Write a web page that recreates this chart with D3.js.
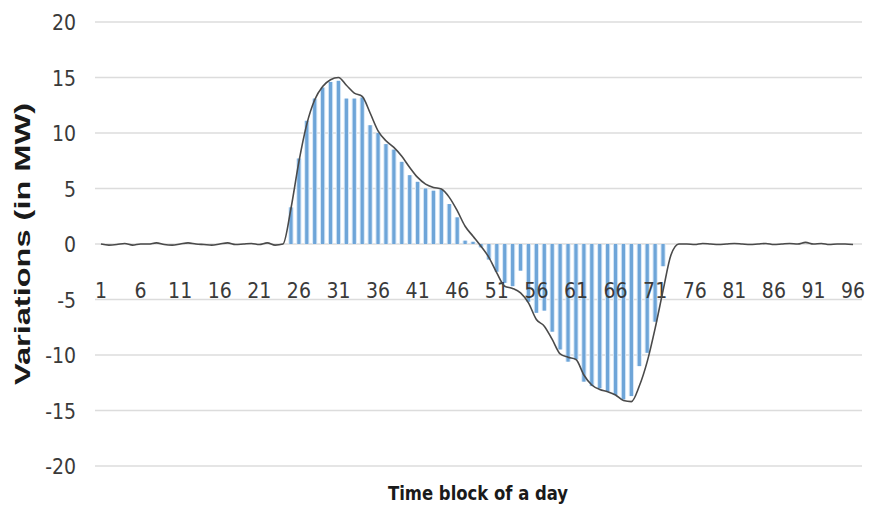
<!DOCTYPE html>
<html><head><meta charset="utf-8">
<script src="https://cdn.jsdelivr.net/npm/d3@7"></script>
<style>
html,body{margin:0;padding:0;background:#fff;}
svg{display:block;}
</style></head>
<body>
<svg id="chart" width="871" height="507"></svg>
<script>
// ---- data ----
const blocks = d3.range(1, 97);
const tickLabels = [1,6,11,16,21,26,31,36,41,46,51,56,61,66,71,76,81,86,91,96];
const yTicks = [-20,-15,-10,-5,0,5,10,15,20];
// line series (variation, MW) per time block
const lineValues = [
  0.0,-0.1,-0.05,0.05,-0.1,0.0,0.0,0.1,-0.05,-0.1,
  0.0,0.1,0.0,-0.05,-0.1,0.0,0.1,-0.05,0.0,0.05,
  -0.05,0.1,-0.1,0.0,3.2,7.4,10.8,13.0,14.2,14.8,
  15.0,14.3,13.6,13.3,11.8,10.2,9.3,8.7,7.9,6.9,
  6.0,5.4,5.1,4.95,4.2,3.0,1.6,0.7,-0.2,-1.2,
  -2.6,-3.8,-4.0,-4.4,-5.3,-6.8,-7.4,-8.6,-9.9,-10.2,
  -10.4,-11.8,-12.7,-13.1,-13.3,-13.6,-14.1,-14.2,-12.8,-10.6,
  -7.6,-4.2,-1.0,0.0,0.0,-0.05,0.05,0.0,-0.05,0.0,
  0.05,0.0,-0.05,0.0,0.05,-0.05,0.0,0.05,0.0,0.15,
  0.0,0.05,-0.05,0.0,0.0,-0.05
];
// bar series (variation, MW) per time block
const barValues = [
  0,0,0,0,0,0,0,0,0,0,
  0,0,0,0,0,0,0,0,0,0,
  0,0,0,0,3.3,7.7,11.1,13.1,14.1,14.6,
  14.7,13.1,13.1,13.2,10.7,10.0,9.0,8.5,7.4,6.2,
  5.6,5.0,4.8,4.9,3.6,2.4,0.3,0.2,-0.3,-1.4,
  -2.5,-3.5,-3.8,-2.4,-5.2,-6.2,-6.0,-7.9,-9.5,-10.6,
  -10.4,-12.4,-12.8,-13.0,-13.3,-13.6,-14.0,-13.7,-11.0,-9.8,
  -7.0,-2.0,0,0,0,0,0,0,0,0,
  0,0,0,0,0,0,0,0,0,0,
  0,0,0,0,0,0
];

// ---- layout ----
const svg = d3.select("#chart");
const gridLeft = 95, gridRight = 862;
const x = d3.scaleBand().domain(blocks).range([97, 857]).paddingInner(0);
const y = d3.scaleLinear().domain([-20, 20]).range([466, 22]);
const numFont = "'DejaVu Sans Condensed','Liberation Sans Narrow',sans-serif";

// gridlines
svg.append("g").selectAll("line").data(yTicks).join("line")
  .attr("x1", gridLeft).attr("x2", gridRight)
  .attr("y1", d => y(d)).attr("y2", d => y(d))
  .attr("stroke", "#dcdcdc").attr("stroke-width", 1.3);

// y axis labels
const yAxis = d3.axisLeft(y).tickValues(yTicks).tickSize(0).tickPadding(0)
  .tickFormat(d => String(d));
const gy = svg.append("g").attr("transform", "translate(76,0)").call(yAxis);
gy.select(".domain").remove();
gy.selectAll("text").attr("font-family", numFont).attr("font-size", 21)
  .attr("fill", "#3a3a3a").attr("dy", "0.36em");

// bars
const bw = 3.2;
svg.append("g").selectAll("rect.halo").data(blocks).join("rect")
  .attr("x", d => x(d) + x.bandwidth()/2 - bw/2 - 1)
  .attr("width", bw + 2)
  .attr("y", (d,i) => y(Math.max(0, barValues[i])))
  .attr("height", (d,i) => Math.abs(y(barValues[i]) - y(0)))
  .attr("fill", "#d6e7f7");
svg.append("g").selectAll("rect.bar").data(blocks).join("rect")
  .attr("x", d => x(d) + x.bandwidth()/2 - bw/2)
  .attr("width", bw)
  .attr("y", (d,i) => y(Math.max(0, barValues[i])))
  .attr("height", (d,i) => Math.abs(y(barValues[i]) - y(0)))
  .attr("fill", "#6ea5d8");

// x axis labels (placed below the zero line)
const xAxis = d3.axisBottom(x).tickValues(tickLabels).tickSize(0).tickPadding(0);
const gx = svg.append("g").attr("transform", `translate(0,${y(0)+54})`).call(xAxis);
gx.select(".domain").remove();
gx.selectAll("text").attr("font-family", numFont).attr("font-size", 21)
  .attr("fill", "#3a3a3a").attr("dy", "0em");

// line
const line = d3.line()
  .x((d,i) => x(blocks[i]) + x.bandwidth()/2)
  .y(d => y(d))
  .curve(d3.curveMonotoneX);
svg.append("path").datum(lineValues)
  .attr("d", line).attr("fill", "none")
  .attr("stroke", "#4a4a4a").attr("stroke-width", 1.6);

// titles
svg.append("text").attr("x", 478).attr("y", 500)
  .attr("text-anchor", "middle")
  .attr("font-family", numFont)
  .attr("font-weight", "bold").attr("font-size", 20).attr("fill", "#1a1a1a")
  .attr("textLength", 180).attr("lengthAdjust", "spacingAndGlyphs")
  .text("Time block of a day");

svg.append("text")
  .attr("transform", "translate(30,244) rotate(-90)")
  .attr("text-anchor", "middle")
  .attr("font-family", "'Liberation Sans',Arial,sans-serif")
  .attr("font-weight", "bold").attr("font-size", 22).attr("fill", "#1a1a1a")
  .attr("textLength", 282).attr("lengthAdjust", "spacingAndGlyphs")
  .text("Variations (in MW)");
</script>
</body></html>
